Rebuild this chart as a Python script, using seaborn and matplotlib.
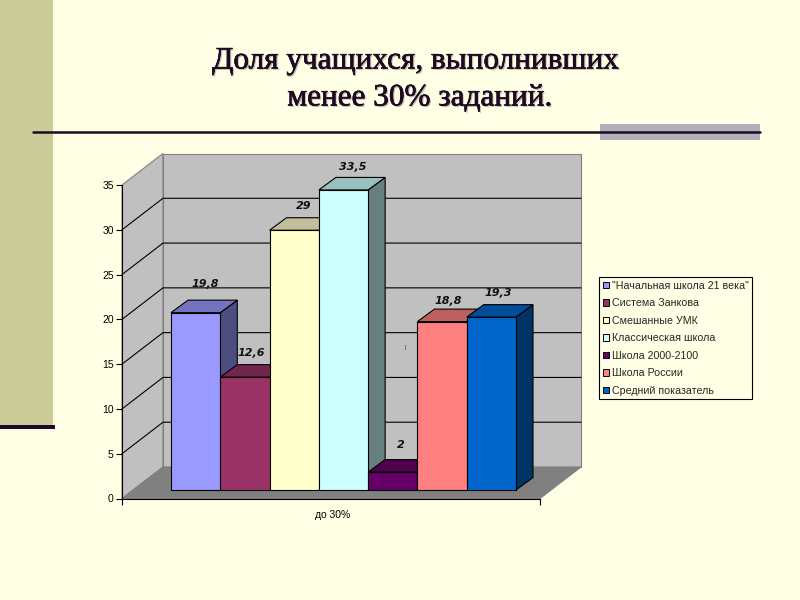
import matplotlib
matplotlib.use("Agg")
import matplotlib.pyplot as plt
import matplotlib.patheffects as pe
from matplotlib.colors import to_rgb
from matplotlib.lines import Line2D
from matplotlib.patches import Patch, Polygon, Rectangle
import pandas as pd
import seaborn as sns

schools = ['"Начальная школа 21 века"', "Система Занкова", "Смешанные УМК",
           "Классическая школа", "Школа 2000-2100", "Школа России",
           "Средний показатель"]
shares = [19.8, 12.6, 29, 33.5, 2, 18.8, 19.3]
share_labels = ["19,8", "12,6", "29", "33,5", "2", "18,8", "19,3"]
group = ["до 30%"] * 7
colors = ["#9999FF", "#993366", "#FFFFCC", "#CCFFFF", "#660066", "#FF8080", "#0066CC"]
y_ticks = [0, 5, 10, 15, 20, 25, 30, 35]

BG = "#FFFFE5"
INK = "#1E0A22"

# pixel layout of the slide
W, H = 800, 600
AX_L, AX_R, AX_TOP, AX_BOT = 122, 540, 185, 498.5
BARS_L, BARS_R, BARS_BASE = 171, 516, 490
WALL_DX, WALL_DY = 41, 31.5
BAR_DX, BAR_DY = 17, 12.5
# label offsets above each bar top, in px
label_dx = [10, 6, 9, 9, 8, 6, 7]
label_dy = [16.5, 12, 12, 10, 15, 8, 12]

sns.set_theme(style="white")
plt.rcParams["font.family"] = ["Liberation Sans", "DejaVu Sans"]

df = pd.DataFrame({"group": group, "school": schools, "share": shares})

fig = plt.figure(figsize=(W / 100, H / 100), dpi=100, facecolor=BG)


def fx(px):
    return px / W


def fy(py):
    return 1 - py / H


# slide decoration
fig.add_artist(Rectangle((0, fy(425)), fx(53), 1 - fy(425), transform=fig.transFigure,
                         fc="#CCCC99", ec="none"))
fig.add_artist(Rectangle((0, fy(429)), fx(55), fy(425) - fy(429), transform=fig.transFigure,
                         fc=INK, ec="none"))
fig.add_artist(Rectangle((fx(600), fy(140)), fx(160), fy(124) - fy(140), transform=fig.transFigure,
                         fc="#B2AFB8", ec="none"))
fig.add_artist(Line2D([fx(33), fx(760)], [fy(131.5), fy(131.5)], transform=fig.transFigure,
                      color=INK, lw=1.8))

title_fx = [pe.withSimplePatchShadow(offset=(1, -1), shadow_rgbFace="#B0B0A0", alpha=0.8),
            pe.withStroke(linewidth=0.4, foreground=INK)]
for txt, cx, cy in [("Доля учащихся, выполнивших", 416, 61), ("менее 30% заданий.", 420, 98)]:
    fig.text(fx(cx), fy(cy), txt, family=["Liberation Serif", "DejaVu Serif"], fontsize=22.5,
             color=INK, ha="center", va="center", path_effects=title_fx)

ax = fig.add_axes([fx(AX_L), fy(AX_BOT), fx(AX_R - AX_L), fy(AX_TOP) - fy(AX_BOT)])
ax.patch.set_alpha(0)

# scales: 0.8 data units (seaborn's group width) span the front of the bars
px_x = (BARS_R - BARS_L) / 0.8
px_y = (AX_BOT - AX_TOP) / 35
center = (BARS_L + BARS_R) / 2
base = (AX_BOT - BARS_BASE) / px_y

sns.barplot(data=df, x="group", y="share", hue="school", hue_order=schools, palette=colors,
            saturation=1, width=0.8, gap=0, bottom=base, edgecolor="black", linewidth=0.8,
            legend=False, ax=ax)

x0, x1 = (AX_L - center) / px_x, (AX_R - center) / px_x
ax.set_xlim(x0, x1)
ax.set_ylim(0, 35)

wdx, wdy = WALL_DX / px_x, WALL_DY / px_y
bdx, bdy = BAR_DX / px_x, BAR_DY / px_y

# walls and floor behind the bars
ax.add_patch(Polygon([(x0, 0), (x0, 35), (x0 + wdx, 35 + wdy), (x0 + wdx, wdy)], fc="#C0C0C0",
                     ec="#808080", lw=0.8, clip_on=False, zorder=0.5))
ax.add_patch(Polygon([(x0 + wdx, wdy), (x0 + wdx, 35 + wdy), (x1 + wdx, 35 + wdy), (x1 + wdx, wdy)],
                     fc="#C0C0C0", ec="#808080", lw=0.8, clip_on=False, zorder=0.5))
ax.add_patch(Polygon([(x0, 0), (x1, 0), (x1 + wdx, wdy), (x0 + wdx, wdy)], fc="#808080",
                     ec="#808080", lw=0.8, clip_on=False, zorder=0.6))
for v in y_ticks[1:-1]:
    ax.plot([x0, x0 + wdx, x1 + wdx], [v, v + wdy, v + wdy], color="black", lw=0.8,
            clip_on=False, zorder=0.7)

# 3D sides and tops built from the bars seaborn drew
for i, container in enumerate(ax.containers):
    bar = container[0]
    l, r = bar.get_x(), bar.get_x() + bar.get_width()
    b, t = bar.get_y(), bar.get_y() + bar.get_height()
    rgb = to_rgb(colors[i])
    bar.set_zorder(3 + i + 0.5)
    ax.add_patch(Polygon([(r, b), (r + bdx, b + bdy), (r + bdx, t + bdy), (r, t)],
                         fc=[c * 0.5 for c in rgb], ec="black", lw=0.8, clip_on=False, zorder=3 + i))
    ax.add_patch(Polygon([(l, t), (r, t), (r + bdx, t + bdy), (l + bdx, t + bdy)],
                         fc=[c * 0.75 for c in rgb], ec="black", lw=0.8, clip_on=False, zorder=3 + i))
    ax.annotate(share_labels[i], ((l + r) / 2, t + bdy), xytext=(label_dx[i] * 0.72, label_dy[i] * 0.72),
                textcoords="offset points", ha="center", va="center", fontsize=8,
                family="DejaVu Sans", fontweight="bold", fontstyle="italic", color="#111111",
                zorder=20, annotation_clip=False)

# stray mark in the original
ax.text((405 - center) / px_x, (AX_BOT - 347) / px_y, "|", fontsize=4, color="#333333",
        ha="center", va="center", zorder=2)

ax.set_xlabel("")
ax.set_ylabel("")
ax.set_yticks(y_ticks)
ax.set_xticks([x0, x1], labels=["", ""])
ax.tick_params(axis="both", direction="out", length=4, width=0.8, color="black", left=True,
               bottom=True, labelsize=7.5, labelcolor="black", pad=2)
ax.text(0.505, -16 / (AX_BOT - AX_TOP), group[0], transform=ax.transAxes, fontsize=7.5, ha="center",
        va="center", color="black")
sns.despine(ax=ax)
for side in ("left", "bottom"):
    ax.spines[side].set_color("black")
    ax.spines[side].set_linewidth(0.8)
    ax.spines[side].set_zorder(2)

handles = [Patch(fc=c, ec="black", lw=0.7, label=s) for c, s in zip(colors, schools)]
leg = ax.legend(handles=handles, loc="upper left",
                bbox_to_anchor=(fx(599), fy(277)), bbox_transform=fig.transFigure,
                fontsize=7.7, frameon=True, fancybox=False, framealpha=1, facecolor=BG,
                edgecolor="black", handlelength=0.55, handleheight=0.55, handletextpad=0.28,
                labelspacing=0.7, borderpad=0.35, borderaxespad=0)
leg.set_zorder(30)
leg.get_frame().set_linewidth(0.8)

fig.savefig("out.png", dpi=100, facecolor=BG)
